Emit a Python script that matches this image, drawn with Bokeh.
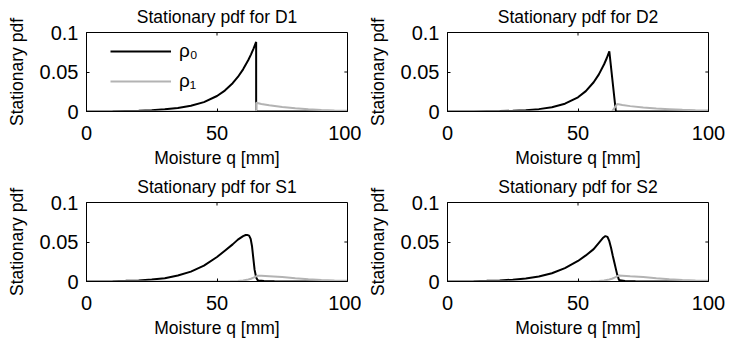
from bokeh.plotting import figure
from bokeh.layouts import gridplot
from bokeh.models import FixedTicker, Range1d, Legend, LegendItem
from bokeh.embed import file_html
from bokeh.resources import INLINE

# ---------------- data ----------------
titles = ["Stationary pdf for D1", "Stationary pdf for D2",
          "Stationary pdf for S1", "Stationary pdf for S2"]
x_label = "Moisture q [mm]"
y_label = "Stationary pdf"
x_ticks = [0, 50, 100]
y_ticks = [0, 0.05, 0.1]
y_tick_labels = ["0", "0.05", "0.1"]
legend_labels = ["\u03c1\u2080", "\u03c1\u2081"]

# D1
d1_q0 = [0, 10, 20, 25, 30, 35, 40, 45, 50, 53, 56, 58, 60, 62, 63, 64, 65, 65, 100]
d1_r0 = [0.00013, 0.00036, 0.00098, 0.0016, 0.0027, 0.0044, 0.0072, 0.0119, 0.0196,
         0.0265, 0.0358, 0.0437, 0.0534, 0.0652, 0.072, 0.0796, 0.088, 0.0, 0.0]
d1_q1 = [0, 65, 65, 67, 70, 75, 80, 85, 90, 95, 100]
d1_r1 = [0, 0, 0.011, 0.0095, 0.0078, 0.0056, 0.004, 0.0028, 0.002, 0.0014, 0.001]

# D2
d2_q0 = [0, 10, 20, 25, 30, 35, 40, 45, 50, 53, 56, 58, 60, 61, 62, 64.5, 100]
d2_r0 = [0.00004, 0.00015, 0.00049, 0.0009, 0.0016, 0.003, 0.0054, 0.0099, 0.018,
         0.0258, 0.037, 0.047, 0.0598, 0.0674, 0.076, 0.0, 0.0]
d2_q1 = [0, 63, 65, 67, 70, 75, 80, 85, 90, 95, 100]
d2_r1 = [0, 0, 0.0094, 0.0082, 0.0068, 0.005, 0.0037, 0.003, 0.0022, 0.0016, 0.0012]

# S1
s1_q0 = [0, 10, 15, 20, 25, 30, 35, 40, 45, 50, 53, 56, 58, 60, 61, 61.5, 62.3, 62.9,
         63.4, 63.9, 64.4, 65, 65.6, 66, 68, 72, 80, 100]
s1_r0 = [0.0001, 0.0004, 0.0008, 0.0014, 0.0025, 0.0042, 0.0075, 0.0125, 0.02, 0.031,
         0.039, 0.047, 0.053, 0.0575, 0.0588, 0.059, 0.058, 0.054, 0.045, 0.03, 0.015,
         0.005, 0.0015, 0.0012, 0.0005, 0.0002, 0.00005, 0.0]
s1_q1 = [0, 55, 58, 60, 62, 63, 64, 65, 65.7, 67, 70, 75, 80, 85, 90, 95, 100]
s1_r1 = [0, 0.0002, 0.0006, 0.0012, 0.0025, 0.0035, 0.005, 0.0066, 0.0073, 0.0072,
         0.0066, 0.0056, 0.0042, 0.003, 0.0019, 0.0012, 0.0008]

# S2
s2_q0 = [0, 10, 15, 20, 25, 30, 35, 40, 45, 50, 53, 56, 58, 59.5, 60.5, 61.3, 62, 62.7,
         63.3, 64, 64.5, 65, 65.7, 66, 68, 72, 80, 100]
s2_r0 = [0.0001, 0.0004, 0.0008, 0.0013, 0.0023, 0.0038, 0.0063, 0.0105, 0.017, 0.026,
         0.033, 0.041, 0.049, 0.055, 0.0575, 0.0565, 0.051, 0.042, 0.033, 0.023, 0.016,
         0.009, 0.002, 0.0015, 0.0005, 0.0002, 0.00005, 0.0]
s2_q1 = [0, 55, 58, 60, 62, 63, 64, 65, 65.7, 67, 70, 75, 80, 85, 90, 95, 100]
s2_r1 = [0, 0.0002, 0.0006, 0.0012, 0.0025, 0.0035, 0.005, 0.0066, 0.0075, 0.0074,
         0.0067, 0.0056, 0.0042, 0.003, 0.0019, 0.0012, 0.0008]

panels = [
    (d1_q0, d1_r0, d1_q1, d1_r1),
    (d2_q0, d2_r0, d2_q1, d2_r1),
    (s1_q0, s1_r0, s1_q1, s1_r1),
    (s2_q0, s2_r0, s2_q1, s2_r1),
]

# ---------------- styling ----------------
FONT = "Liberation Sans"
BLACK = "#000000"
GRAY = "#b3b3b3"
TICK_FRAC_X = 0.012   # inward tick length on right edge, as fraction of x span
TICK_FRAC_Y = 0.038   # inward tick length on top edge, as fraction of y span


def make_panel(i, data):
    q0, r0, q1, r1 = data
    left_col = (i % 2 == 0)
    p = figure(frame_width=261, frame_height=79, output_backend="svg", toolbar_location=None,
               x_range=Range1d(0, 100), y_range=Range1d(0, 0.1),
               min_border_left=86, min_border_right=14 if left_col else 18,
               min_border_top=32, min_border_bottom=54)
    p.title.text = titles[i]
    p.title.text_font = FONT
    p.title.text_font_size = "17.5px"
    p.title.text_font_style = "normal"
    p.title.text_color = BLACK
    p.title.align = "center"
    p.title.vertical_align = "top"
    p.title.standoff = 7
    p.outline_line_color = BLACK
    p.outline_line_alpha = 1
    p.xgrid.visible = False
    p.ygrid.visible = False

    xa = p.xaxis[0]
    xa.ticker = FixedTicker(ticks=x_ticks)
    ya = p.yaxis[0]
    ya.ticker = FixedTicker(ticks=y_ticks)
    ya.major_label_overrides = {t: l for t, l in zip(y_ticks, y_tick_labels)}
    for ax in (xa, ya):
        ax.major_tick_in = 3
        ax.major_tick_out = 0
        ax.minor_tick_line_color = None
        ax.axis_line_color = BLACK
        ax.major_tick_line_color = BLACK
        ax.major_label_text_font = FONT
        ax.major_label_text_font_size = "20px"
        ax.major_label_text_color = BLACK
        ax.axis_label_text_font = FONT
        ax.axis_label_text_font_size = "17.5px"
        ax.axis_label_text_font_style = "normal"
        ax.axis_label_text_color = BLACK
    xa.axis_label = x_label
    xa.major_label_standoff = 14
    xa.axis_label_standoff = 5
    ya.axis_label = y_label
    ya.major_label_standoff = 8
    ya.axis_label_standoff = 10

    # inward ticks on the top and right sides of the box (box on)
    xr, yr = p.x_range, p.y_range
    p.segment(x0=x_ticks, y0=[yr.end] * len(x_ticks), x1=x_ticks,
              y1=[yr.end - TICK_FRAC_Y * (yr.end - yr.start)] * len(x_ticks),
              line_color=BLACK, line_width=1)
    p.segment(x0=[xr.end] * len(y_ticks), y0=y_ticks,
              x1=[xr.end - TICK_FRAC_X * (xr.end - xr.start)] * len(y_ticks), y1=y_ticks,
              line_color=BLACK, line_width=1)

    l0 = p.line(q0, r0, line_color=BLACK, line_width=2)
    l1 = p.line(q1, r1, line_color=GRAY, line_width=2)

    if i == 0:
        leg = Legend(items=[LegendItem(label=legend_labels[0], renderers=[l0]),
                            LegendItem(label=legend_labels[1], renderers=[l1])],
                     location=(24, 19))
        leg.margin = 0
        leg.padding = 0
        leg.spacing = 8
        leg.glyph_width = 61
        leg.glyph_height = 22
        leg.label_standoff = 8
        leg.label_text_font = FONT
        leg.label_text_font_size = "19px"
        leg.label_text_color = BLACK
        leg.border_line_alpha = 0
        leg.background_fill_alpha = 0
        p.add_layout(leg, "center")
    return p


figs = [make_panel(i, d) for i, d in enumerate(panels)]
grid = gridplot([[figs[0], figs[1]], [figs[2], figs[3]]], toolbar_location=None)

open("out.html", "w").write(file_html(grid, INLINE))
